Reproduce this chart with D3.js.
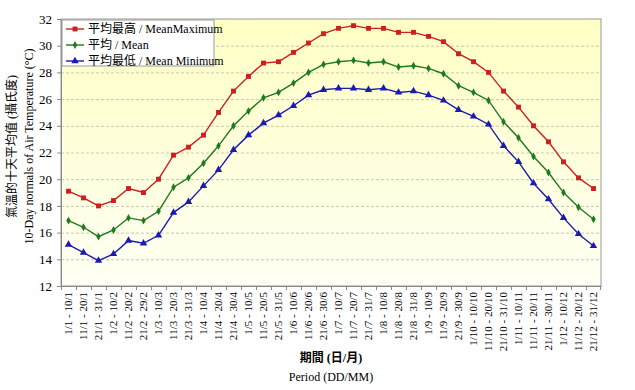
<!DOCTYPE html>
<html lang="zh-Hant">
<head>
    <meta charset="UTF-8">
    <title>10-Day normals of Air Temperature</title>
    <script src="https://d3js.org/d3.v7.min.js"></script>
    <style>
        body { margin: 0; background: #fff; }
        svg text { font-family: "Liberation Serif", "Noto Sans CJK TC", serif; fill: #000; }
    </style>
</head>
<body>
    <div id="chart"></div>
    <script>
        var periods = ["1/1 - 10/1", "11/1 - 20/1", "21/1 - 31/1", "1/2 - 10/2", "11/2 - 20/2", "21/2 - 29/2",
            "1/3 - 10/3", "11/3 - 20/3", "21/3 - 31/3", "1/4 - 10/4", "11/4 - 20/4", "21/4 - 30/4",
            "1/5 - 10/5", "11/5 - 20/5", "21/5 - 31/5", "1/6 - 10/6", "11/6 - 20/6", "21/6 - 30/6",
            "1/7 - 10/7", "11/7 - 20/7", "21/7 - 31/7", "1/8 - 10/8", "11/8 - 20/8", "21/8 - 31/8",
            "1/9 - 10/9", "11/9 - 20/9", "21/9 - 30/9", "1/10 - 10/10", "11/10 - 20/10", "21/10 - 31/10",
            "1/11 - 10/11", "11/11 - 20/11", "21/11 - 30/11", "1/12 - 10/12", "11/12 - 20/12", "21/12 - 31/12"];

        var meanMax = [19.1, 18.6, 18.0, 18.4, 19.3, 19.0, 20.0, 21.8, 22.4, 23.3, 25.0, 26.6,
            27.7, 28.7, 28.8, 29.5, 30.2, 30.9, 31.3, 31.5, 31.3, 31.3, 31.0, 31.0,
            30.7, 30.3, 29.4, 28.8, 28.0, 26.6, 25.4, 24.0, 22.8, 21.3, 20.1, 19.3];
        var mean = [16.9, 16.4, 15.7, 16.2, 17.1, 16.9, 17.6, 19.4, 20.1, 21.2, 22.5, 24.0,
            25.1, 26.1, 26.5, 27.2, 28.0, 28.6, 28.8, 28.9, 28.7, 28.8, 28.4, 28.5,
            28.3, 27.9, 27.0, 26.5, 25.9, 24.3, 23.1, 21.7, 20.5, 19.0, 17.9, 17.0];
        var meanMin = [15.1, 14.5, 13.9, 14.4, 15.4, 15.2, 15.8, 17.5, 18.3, 19.5, 20.7, 22.2,
            23.3, 24.2, 24.8, 25.5, 26.3, 26.7, 26.8, 26.8, 26.7, 26.8, 26.5, 26.6,
            26.3, 25.9, 25.2, 24.7, 24.1, 22.5, 21.3, 19.7, 18.5, 17.1, 15.9, 15.0];
        var yTicks = [12, 14, 16, 18, 20, 22, 24, 26, 28, 30, 32];

        var series = [
            {name: "平均最高 / MeanMaximum", values: meanMax, color: "#cc1f1f", marker: "square"},
            {name: "平均 / Mean", values: mean, color: "#1e7a1e", marker: "diamond"},
            {name: "平均最低 / Mean Minimum", values: meanMin, color: "#1a1ab4", marker: "triangle"}
        ];

        var W = 635, H = 390,
            margin = {top: 19, right: 34, bottom: 104, left: 61},
            width = W - margin.left - margin.right,
            height = H - margin.top - margin.bottom;

        var svg = d3.select("#chart").append("svg")
            .attr("width", W).attr("height", H);

        var defs = svg.append("defs");
        var grad = defs.append("linearGradient").attr("id", "bg")
            .attr("x1", 0).attr("y1", 0).attr("x2", 0).attr("y2", 1);
        grad.append("stop").attr("offset", "0%").attr("stop-color", "#ffffc4");
        grad.append("stop").attr("offset", "100%").attr("stop-color", "#fffff4");

        var g = svg.append("g").attr("transform", "translate(" + margin.left + "," + margin.top + ")");

        var x = d3.scaleBand().domain(periods).range([0, width]).padding(0);
        var y = d3.scaleLinear().domain([12, 32]).range([height, 0]);

        // plot background
        g.append("rect").attr("width", width).attr("height", height)
            .attr("fill", "url(#bg)").attr("stroke", "#999").attr("stroke-width", 1);

        // gridlines
        g.append("g").selectAll("line")
            .data(yTicks.slice(1, -1)).enter().append("line")
            .attr("x1", 0).attr("x2", width)
            .attr("y1", d => y(d) + 0.5).attr("y2", d => y(d) + 0.5)
            .attr("stroke", "#c8c8b0").attr("stroke-dasharray", "3,2");

        // y axis
        var yAxis = g.append("g").call(d3.axisLeft(y).tickValues(yTicks).tickSize(4).tickSizeOuter(0));
        yAxis.select(".domain").attr("stroke", "#888");
        yAxis.selectAll(".tick line").attr("stroke", "#888");
        yAxis.selectAll(".tick text").style("font-size", "13px").attr("x", -9);

        // x axis
        var xAxis = g.append("g").attr("transform", "translate(0," + height + ")")
            .call(d3.axisBottom(x).tickSize(0).tickSizeOuter(0));
        xAxis.select(".domain").attr("stroke", "#888");
        xAxis.selectAll(".tick text")
            .style("font-size", "11px")
            .attr("text-anchor", "end")
            .attr("transform", "rotate(-90)")
            .attr("x", -6).attr("y", 0).attr("dy", "0.35em");
        // ticks at category boundaries
        xAxis.append("g").selectAll("line")
            .data(periods).enter().append("line")
            .attr("x1", d => x(d) + 0.5).attr("x2", d => x(d) + 0.5)
            .attr("y1", 0).attr("y2", 4).attr("stroke", "#888");
        xAxis.append("line").attr("x1", width - 0.5).attr("x2", width - 0.5)
            .attr("y1", 0).attr("y2", 4).attr("stroke", "#888");

        function markerPath(type) {
            if (type === "square") return d3.symbol().type(d3.symbolSquare).size(24)();
            if (type === "diamond") return d3.symbol().type(d3.symbolDiamond).size(18)();
            return d3.symbol().type(d3.symbolTriangle).size(24)();
        }

        var line = d3.line()
            .x((d, i) => x(periods[i]) + x.bandwidth() / 2)
            .y(d => y(d));

        series.forEach(function(s) {
            g.append("path").datum(s.values)
                .attr("fill", "none").attr("stroke", s.color).attr("stroke-width", 1.4)
                .attr("d", line);
            g.append("g").selectAll("path")
                .data(s.values).enter().append("path")
                .attr("d", markerPath(s.marker))
                .attr("fill", s.color)
                .attr("transform", (d, i) => "translate(" + (x(periods[i]) + x.bandwidth() / 2) + "," + y(d) + ")");
        });

        // legend
        var legend = g.append("g").attr("transform", "translate(1,1)");
        legend.append("rect").attr("width", 152).attr("height", 46)
            .attr("fill", "#fff").attr("stroke", "#999");
        series.forEach(function(s, i) {
            var row = legend.append("g").attr("transform", "translate(4," + (9 + i * 16) + ")");
            row.append("line").attr("x1", 0).attr("x2", 18).attr("y1", 0).attr("y2", 0)
                .attr("stroke", s.color).attr("stroke-width", 1.4);
            row.append("path").attr("d", markerPath(s.marker)).attr("fill", s.color)
                .attr("transform", "translate(9,0)");
            row.append("text").attr("x", 22).attr("dy", "0.35em")
                .style("font-size", "12px").text(s.name);
        });

        // y axis title
        svg.append("text")
            .attr("transform", "translate(16," + (margin.top + height / 2 - 6) + ")rotate(-90)")
            .attr("text-anchor", "middle").style("font-size", "12px")
            .text("氣溫的十天平均值 (攝氏度)");
        svg.append("text")
            .attr("transform", "translate(33," + (margin.top + height / 2 - 6) + ")rotate(-90)")
            .attr("text-anchor", "middle").style("font-size", "12px")
            .text("10-Day normals of Air Temperature (°C)");

        // x axis title
        svg.append("text")
            .attr("x", margin.left + width / 2).attr("y", 362)
            .attr("text-anchor", "middle").style("font-size", "12px").style("font-weight", "bold")
            .text("期間 (日/月)");
        svg.append("text")
            .attr("x", margin.left + width / 2).attr("y", 381)
            .attr("text-anchor", "middle").style("font-size", "12px")
            .text("Period (DD/MM)");
    </script>
</body>
</html>
